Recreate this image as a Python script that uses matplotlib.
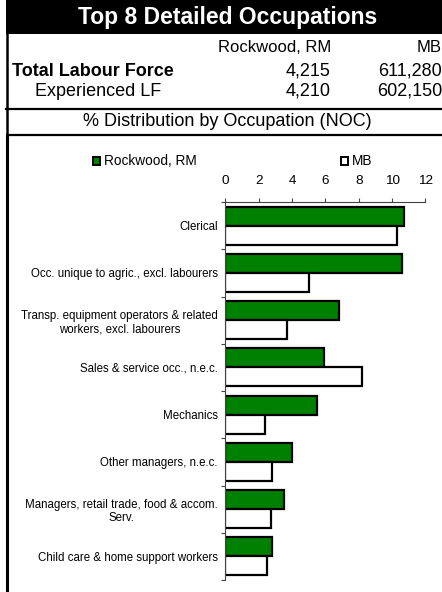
import matplotlib
matplotlib.use("Agg")
import matplotlib.pyplot as plt
from matplotlib.patches import Rectangle
from matplotlib.lines import Line2D
import numpy as np

plt.rcParams['font.family'] = ['Liberation Sans', 'DejaVu Sans']

title = "Top 8 Detailed Occupations"
col_names = ["Rockwood, RM", "MB"]
total_lf = ["4,215", "611,280"]
experienced_lf = ["4,210", "602,150"]
subtitle = "% Distribution by Occupation (NOC)"

categories = [
    "Clerical",
    "Occ. unique to agric., excl. labourers",
    "Transp. equipment operators & related\nworkers, excl. labourers",
    "Sales & service occ., n.e.c.",
    "Mechanics",
    "Other managers, n.e.c.",
    "Managers, retail trade, food & accom.\nServ.",
    "Child care & home support workers",
]
rockwood = [10.7, 10.6, 6.8, 5.9, 5.5, 4.0, 3.5, 2.8]
mb = [10.3, 5.0, 3.7, 8.2, 2.4, 2.8, 2.7, 2.5]
xticks = [0, 2, 4, 6, 8, 10, 12]

W, H = 442, 592
fig = plt.figure(figsize=(W / 100, H / 100), dpi=100)

def fx(px):
    return px / W

def fy(py):
    return 1 - py / H

# header black box
fig.patches.append(Rectangle((fx(6), fy(33.5)), 1, 33.5 / H, transform=fig.transFigure,
                             facecolor='black', edgecolor='none', zorder=0))
fig.text(fx(228), fy(17.5), title, color='white', fontsize=16.5, fontweight='bold',
         ha='center', va='center')

TS = 13
# table rows
fig.text(fx(331), fy(48), col_names[0], fontsize=12, ha='right', va='center')
fig.text(fx(442), fy(48), col_names[1], fontsize=12, ha='right', va='center')
fig.text(fx(12), fy(71.5), "Total Labour Force", fontsize=TS, fontweight='bold', ha='left', va='center')
fig.text(fx(331), fy(71.5), total_lf[0], fontsize=TS, ha='right', va='center')
fig.text(fx(442), fy(71.5), total_lf[1], fontsize=TS, ha='right', va='center')
fig.text(fx(98), fy(91.5), "Experienced LF", fontsize=TS, ha='center', va='center')
fig.text(fx(331), fy(91.5), experienced_lf[0], fontsize=TS, ha='right', va='center')
fig.text(fx(442), fy(91.5), experienced_lf[1], fontsize=TS, ha='right', va='center')
fig.text(fx(227), fy(121), subtitle, fontsize=TS, ha='center', va='center')

# borders
fig.lines.append(Line2D([fx(6), 1], [fy(109), fy(109)], transform=fig.transFigure, color='black', lw=1.6))
fig.lines.append(Line2D([fx(10), 1], [fy(135), fy(135)], transform=fig.transFigure, color='black', lw=1.6))
fig.lines.append(Line2D([fx(7), fx(7)], [1, 0], transform=fig.transFigure, color='black', lw=1.8))
fig.lines.append(Line2D([fx(7.5), fx(7.5)], [fy(135), 0], transform=fig.transFigure, color='black', lw=2.2))

# legend
fig.patches.append(Rectangle((fx(92.5), fy(165)), fx(7.5), 8.5 / H, transform=fig.transFigure,
                             facecolor='#008000', edgecolor='black', lw=1.4))
fig.text(fx(103.5), fy(161), col_names[0], fontsize=9.8, ha='left', va='center')
fig.patches.append(Rectangle((fx(340.5), fy(165)), fx(7.5), 8.5 / H, transform=fig.transFigure,
                             facecolor='white', edgecolor='black', lw=1.4))
fig.text(fx(351.5), fy(161), col_names[1], fontsize=9.8, ha='left', va='center')

# chart
ax = fig.add_axes([fx(225.5), fy(580), fx(200), (580 - 202) / H])
y = np.arange(len(categories))
h = 0.4
ax.barh(y - h / 2, rockwood, height=h, color='#008000', edgecolor='black', lw=1.6)
ax.barh(y + h / 2, mb, height=h, color='white', edgecolor='black', lw=1.6)
ax.set_xlim(0, 12)
ax.set_ylim(len(categories) - 0.5, -0.5)
ax.set_xticks(xticks)
ax.xaxis.tick_top()
ax.tick_params(axis='x', direction='out', length=3, pad=7.5, labelsize=9.7, width=0.8, color='#444444')
ax.set_yticks(np.arange(-0.5, len(categories)))
ax.set_yticklabels([])
ax.set_yticks(y, minor=True)
ax.set_yticklabels(categories, minor=True, fontsize=8.3, ha='right', multialignment='center')
ax.tick_params(axis='y', which='major', direction='out', length=3, width=0.8, color='#444444')
ax.tick_params(axis='y', which='minor', length=0, pad=5.5)
for s in ['right', 'bottom']:
    ax.spines[s].set_visible(False)
ax.spines['top'].set_color('#444444')
ax.spines['left'].set_color('#444444')
ax.spines['top'].set_linewidth(0.8)
ax.spines['left'].set_linewidth(0.8)

fig.savefig("out.png", dpi=100)
